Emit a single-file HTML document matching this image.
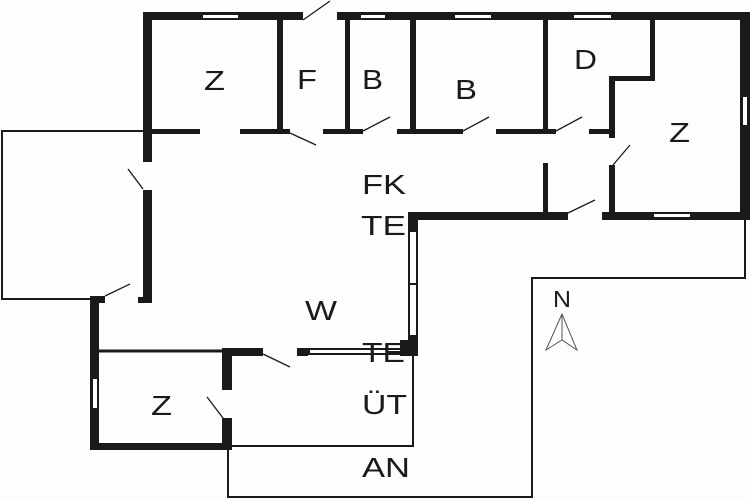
<!DOCTYPE html>
<html><head><meta charset="utf-8"><style>html,body{margin:0;padding:0;background:#fff}svg{display:block}</style></head>
<body>
<svg width="750" height="500" viewBox="0 0 750 500" xmlns="http://www.w3.org/2000/svg">
<rect width="750" height="500" fill="#fdfdfc"/>
<g fill="none" stroke="#1a1a1a" stroke-width="2">
<polyline points="143,131 2,131 2,299 92,299"/>
<polyline points="413,356 413,446 228,446"/>
<polyline points="228,446 228,497 532,497 532,278 745,278 745,218"/>
<line x1="98" y1="351" x2="224" y2="351" stroke-width="3"/>
</g>
<g fill="#1a1a1a">
<rect x="143" y="12" width="607" height="8"/>
<rect x="740" y="12" width="10" height="208"/>
<rect x="143" y="12" width="9" height="150"/>
<rect x="143" y="190" width="9" height="113"/>
<rect x="138" y="297" width="14" height="6"/>
<rect x="90" y="296" width="15" height="7"/>
<rect x="90" y="296" width="9" height="154"/>
<rect x="90" y="443" width="142" height="7"/>
<rect x="222" y="348" width="10" height="42"/>
<rect x="222" y="418" width="10" height="32"/>
<rect x="222" y="348" width="41" height="8"/>
<rect x="297" y="348" width="11" height="8"/>
<rect x="308" y="348" width="95" height="7"/>
<rect x="400" y="340" width="18" height="16"/>
<rect x="408" y="212" width="10" height="144"/>
<rect x="408" y="212" width="160" height="8"/>
<rect x="602" y="212" width="148" height="8"/>
<rect x="152" y="129" width="48" height="5"/>
<rect x="240" y="129" width="50" height="5"/>
<rect x="323" y="129" width="40" height="5"/>
<rect x="397" y="129" width="66" height="5"/>
<rect x="496" y="129" width="60" height="5"/>
<rect x="589" y="129" width="26" height="5"/>
<rect x="277" y="20" width="6" height="114"/>
<rect x="345" y="20" width="5" height="114"/>
<rect x="410" y="20" width="6" height="114"/>
<rect x="543" y="20" width="5" height="114"/>
<rect x="543" y="163" width="5" height="52"/>
<rect x="609" y="76" width="6" height="62"/>
<rect x="609" y="165" width="6" height="50"/>
<rect x="609" y="76" width="46" height="5"/>
<rect x="650" y="20" width="5" height="61"/>
</g>
<g fill="#fdfdfc">
<rect x="303" y="11" width="34" height="10"/>
<rect x="203" y="15" width="35" height="3"/>
<rect x="361" y="15" width="24" height="3"/>
<rect x="455" y="15" width="36" height="3"/>
<rect x="574" y="15" width="37" height="3"/>
<rect x="743" y="97" width="4" height="28"/>
<rect x="654" y="214" width="36" height="3"/>
<rect x="410" y="232" width="6" height="51"/>
<rect x="410" y="285" width="6" height="50"/>
<rect x="93" y="379" width="4" height="29"/>
<rect x="310" y="350" width="90" height="3"/>
</g>
<g stroke="#1a1a1a" stroke-width="1.3">
<line x1="303" y1="20" x2="330" y2="1"/>
<line x1="290" y1="133" x2="316" y2="145"/>
<line x1="363" y1="131" x2="390" y2="117"/>
<line x1="463" y1="131" x2="489" y2="117"/>
<line x1="556" y1="131" x2="582" y2="117"/>
<line x1="613" y1="165" x2="630" y2="145"/>
<line x1="568" y1="213" x2="595" y2="200"/>
<line x1="105" y1="296" x2="130" y2="284"/>
<line x1="263" y1="354" x2="290" y2="367"/>
<line x1="223" y1="418" x2="207" y2="397"/>
<line x1="128" y1="169" x2="143" y2="189"/>
</g>
<g fill="none" stroke="#555" stroke-width="1">
<polygon points="562,314 546,350 562,340 577,350"/>
<line x1="562" y1="314" x2="562" y2="340"/>
</g>
<g font-family="Liberation Sans, sans-serif" font-size="28" fill="#1a1a1a">
<text x="204" y="90" textLength="21" lengthAdjust="spacingAndGlyphs">Z</text>
<text x="297" y="89" textLength="20" lengthAdjust="spacingAndGlyphs">F</text>
<text x="362" y="89" textLength="21" lengthAdjust="spacingAndGlyphs">B</text>
<text x="455" y="99" textLength="22" lengthAdjust="spacingAndGlyphs">B</text>
<text x="574" y="69" textLength="23" lengthAdjust="spacingAndGlyphs">D</text>
<text x="669" y="142" textLength="21" lengthAdjust="spacingAndGlyphs">Z</text>
<text x="362" y="194" textLength="44" lengthAdjust="spacingAndGlyphs">FK</text>
<text x="361" y="235" textLength="45" lengthAdjust="spacingAndGlyphs">TE</text>
<text x="305" y="320" textLength="32" lengthAdjust="spacingAndGlyphs">W</text>
<text x="362" y="362" textLength="43" lengthAdjust="spacingAndGlyphs">TE</text>
<text x="362" y="414" textLength="45" lengthAdjust="spacingAndGlyphs">ÜT</text>
<text x="362" y="477" textLength="48" lengthAdjust="spacingAndGlyphs">AN</text>
<text x="151" y="415" textLength="21" lengthAdjust="spacingAndGlyphs">Z</text>
<text x="553" y="307" font-size="23" textLength="18" lengthAdjust="spacingAndGlyphs">N</text>
</g>
</svg>
</body></html>
